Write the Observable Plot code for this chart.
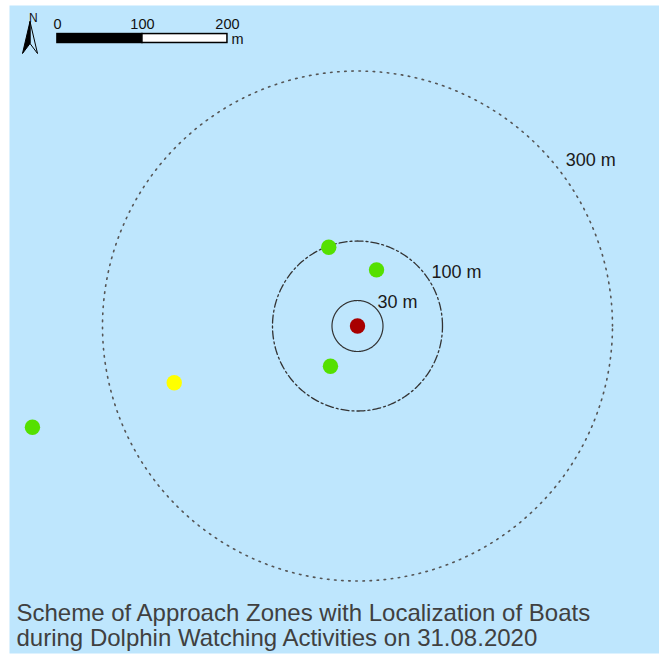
<!DOCTYPE html>
<html>
<head>
<meta charset="utf-8">
<script src="https://cdn.jsdelivr.net/npm/d3@7"></script>
<script src="https://cdn.jsdelivr.net/npm/@observablehq/plot@0.6"></script>
<style>
  html, body { margin: 0; padding: 0; background: #ffffff; }
</style>
</head>
<body>
<div id="chart"></div>
<script>
// ---------- DATA ----------
// approach zones (radius in metres) and their labels
const zoneRadii = [30, 100, 300];
const zoneLabels = ["30 m", "100 m", "300 m"];

// boat positions in metres relative to the dolphin group (east, north)
const boatEast  = [-33.8, 22.4, -31.8, -215.6, -382.4];
const boatNorth = [ 92.7, 66.1, -47.3,  -66.8, -119.1];
const boatStatus = ["ok", "ok", "ok", "caution", "ok"];

// dolphin group location
const dolphinEast = [0];
const dolphinNorth = [0];

// scale bar tick labels (metres)
const scaleTicks = [0, 100, 200];
const scaleUnit = "m";

const captionLines = [
  "Scheme of Approach Zones with Localization of Boats",
  "during Dolphin Watching Activities on 31.08.2020"
];

// ---------- BUILD TABLES ----------
const boats = boatEast.map((e, i) => ({east: e, north: boatNorth[i], status: boatStatus[i]}));
const dolphins = dolphinEast.map((e, i) => ({east: e, north: dolphinNorth[i]}));

function ring(r) {
  return d3.range(0, 360, 1).map(a => ({
    zone: r,
    east: r * Math.cos(a * Math.PI / 180),
    north: r * Math.sin(a * Math.PI / 180)
  }));
}

// label anchors placed along each ring (layout)
const labelAngle = {30: 45, 100: 37, 300: 40};
const labelOffset = {30: [2, -6], 100: [6, -3], 300: [13, -2]};
const labels = zoneRadii.map((r, i) => ({
  r, text: zoneLabels[i],
  east: r * Math.cos(labelAngle[r] * Math.PI / 180),
  north: r * Math.sin(labelAngle[r] * Math.PI / 180)
}));

// scale bar layout (metres in map coordinates)
const barX0 = -353, barYlo = 333, barYhi = 343.5;
const barSegs = d3.pairs(scaleTicks).map(([a, b], i) => ({x1: barX0 + a, x2: barX0 + b, fill: i % 2 === 0 ? "#000000" : "#ffffff"}));
const barLabels = scaleTicks.map(t => ({x: barX0 + t, label: String(t)}));

// north arrow symbols
const arrowLeft = {draw(ctx) { ctx.moveTo(0, -16); ctx.lineTo(-7.5, 16); ctx.lineTo(0, 6); ctx.closePath(); }};
const arrowRight = {draw(ctx) { ctx.moveTo(0, -16); ctx.lineTo(7.5, 16); ctx.lineTo(0, 6); ctx.closePath(); }};

const font = "'Liberation Sans', Arial, sans-serif";

const labelMarks = labels.map(l => Plot.text([l], {
  x: "east", y: "north", text: "text", textAnchor: "start", fontSize: 18, fill: "#1a1a1a",
  dx: labelOffset[l.r][0], dy: labelOffset[l.r][1]
}));

const plot = Plot.plot({
  width: 659,
  height: 659,
  marginTop: 5,
  marginLeft: 9,
  marginRight: 0,
  marginBottom: 6,
  x: {domain: [-409.4, 355.3], axis: null},
  y: {domain: [-385.3, 377.1], axis: null},
  color: {domain: ["ok", "caution"], range: ["#55e000", "#ffff00"]},
  style: {fontFamily: font, background: "#ffffff", overflow: "visible"},
  marks: [
    Plot.frame({fill: "#bee6fd", stroke: null}),
    // zones
    Plot.line(ring(300), {x: "east", y: "north", curve: "linear-closed", stroke: "#555555", strokeWidth: 1.6, strokeDasharray: "1.5,5.6"}),
    Plot.line(ring(100), {x: "east", y: "north", curve: "linear-closed", stroke: "#333333", strokeWidth: 1.3, strokeDasharray: "8,3,2,3"}),
    Plot.line(ring(30), {x: "east", y: "north", curve: "linear-closed", stroke: "#333333", strokeWidth: 1.2}),
    ...labelMarks,
    // boats & dolphins
    Plot.dot(boats, {x: "east", y: "north", fill: "status", r: 7.7}),
    Plot.dot(dolphins, {x: "east", y: "north", fill: "#a80000", r: 7.7}),
    // scale bar
    Plot.rect(barSegs, {x1: "x1", x2: "x2", y1: barYlo, y2: barYhi, fill: "fill", stroke: "#000000", strokeWidth: 1.5}),
    Plot.text(barLabels, {x: "x", y: barYhi, text: "label", dy: -10, fontSize: 14.5, fill: "#111111"}),
    Plot.text([scaleUnit], {x: barX0 + scaleTicks[scaleTicks.length - 1], y: (barYlo + barYhi) / 2, text: d => d, textAnchor: "start", dx: 4, dy: 1, fontSize: 14.5, fill: "#111111"}),
    // north arrow
    Plot.dot([0], {frameAnchor: "top-left", dx: 20.5, dy: 32, symbol: arrowLeft, fill: "#000000", stroke: "#000000", strokeWidth: 1}),
    Plot.dot([0], {frameAnchor: "top-left", dx: 20.5, dy: 32, symbol: arrowRight, fill: "none", stroke: "#000000", strokeWidth: 1}),
    Plot.text(["N"], {frameAnchor: "top-left", dx: 19.5, dy: 8, text: d => d, fontSize: 12, fill: "#111111"}),
    // caption
    Plot.text([captionLines.join("\n")], {frameAnchor: "bottom-left", text: d => d, textAnchor: "start", lineAnchor: "bottom", lineHeight: 1.02, dx: 7, dy: -8, fontSize: 24, fill: "#404040"})
  ]
});

document.getElementById("chart").appendChild(plot);
</script>
</body>
</html>
